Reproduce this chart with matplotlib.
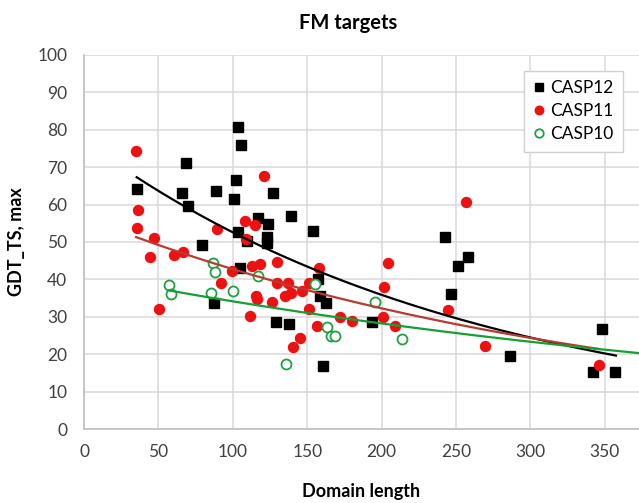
import matplotlib
matplotlib.use('Agg')
import matplotlib.pyplot as plt
import numpy as np

plt.rcParams['font.family'] = ['Lato', 'DejaVu Sans']

# CASP12
c12_x = [35.4, 103.7, 105.7, 68.8, 102.2, 66.1, 88.9, 69.7, 100.8, 126.8,
         117.1, 123.9, 103.7, 109.3, 122.8, 123.2, 79.5, 104.8, 87.6, 128.8,
         139.1, 154.1, 242.6, 251.6, 258.3, 246.6, 157.0, 158.6, 162.6, 138.0,
         193.3, 160.8, 347.9, 286.3, 341.8, 356.9]
c12_y = [64.1, 80.8, 75.9, 71.2, 66.5, 63.0, 63.6, 59.6, 61.6, 63.0,
         56.3, 54.8, 52.6, 50.3, 51.4, 49.6, 49.1, 43.0, 33.6, 28.7,
         57.0, 52.8, 51.4, 43.6, 45.9, 36.1, 40.0, 35.6, 33.6, 28.1,
         28.7, 16.8, 26.7, 19.6, 15.2, 15.2]

# CASP11
c11_x = [35.0, 36.5, 35.4, 47.0, 44.4, 60.7, 66.3, 89.6, 121.0, 108.0,
         115.1, 108.7, 129.5, 112.9, 118.5, 99.5, 129.5, 92.1, 50.6, 111.6,
         115.6, 116.0, 126.1, 137.3, 135.1, 139.1, 146.3, 151.4, 158.1, 151.4,
         156.4, 172.0, 179.9, 145.2, 140.7, 204.5, 201.6, 200.7, 209.0, 256.7,
         244.4, 269.5, 346.3]
c11_y = [74.4, 58.6, 53.7, 51.0, 45.9, 46.5, 47.4, 53.4, 67.6, 55.7,
         54.6, 50.7, 44.7, 43.6, 44.0, 42.3, 39.1, 39.1, 32.0, 30.2,
         35.6, 34.7, 34.0, 39.1, 35.6, 36.4, 37.0, 39.1, 43.0, 32.0,
         27.5, 30.0, 29.0, 24.3, 21.8, 44.3, 37.9, 30.0, 27.6, 60.8,
         31.8, 22.3, 17.1]

# CASP10
c10_x = [57.3, 58.2, 86.9, 87.8, 85.1, 99.9, 117.2, 155.2, 195.6, 163.5,
         166.0, 168.7, 213.5, 135.8]
c10_y = [38.5, 36.1, 44.3, 41.9, 36.3, 36.8, 40.9, 38.8, 33.9, 27.4,
         24.9, 24.9, 24.0, 17.4]

# exponential trend lines y = a*exp(b*x): (a, b, x_start, x_end)
trend12 = (77.05, -0.003824, 35.4, 357.5)
trend11 = (56.6, -0.002811, 35.0, 346.3)
trend10 = (41.28, -0.001903, 57.3, 373.0)

XMAX = 373


def trend_line(ax, params, color):
    a, b, x0, x1 = params
    xs = np.linspace(x0, x1, 200)
    ax.plot(xs, a * np.exp(b * xs), color=color, lw=1.6, zorder=5)


fig = plt.figure(figsize=(6.39, 5.03), dpi=100)
ax = fig.add_axes([0.1315, 0.147, 0.8685, 0.744])

ax.grid(True, color='#d9d9d9', linewidth=1.1, zorder=0)
ax.set_axisbelow(True)

ax.plot(c12_x, c12_y, 's', color='black', ms=7.4, mec='black', label='CASP12', zorder=3)
ax.plot(c11_x, c11_y, 'o', color='#ee1111', ms=7.2, mec='#ee1111', label='CASP11', zorder=3)
ax.plot(c10_x, c10_y, 'o', mfc='white', mec='#22a040', mew=1.3, ms=7.2,
        label='CASP10', zorder=4)

trend_line(ax, trend12, 'black')
trend_line(ax, trend11, '#b83a32')
trend_line(ax, trend10, '#14a035')

ax.set_xlim(0, XMAX)
ax.set_ylim(0, 100)
ax.set_xticks(np.arange(0, 351, 50))
ax.set_yticks(np.arange(0, 101, 10))
for s in ['top', 'right']:
    ax.spines[s].set_visible(False)
for s in ['left', 'bottom']:
    ax.spines[s].set_color('#bfbfbf')
    ax.spines[s].set_linewidth(1.2)
ax.tick_params(length=0, labelsize=12.5, colors='#404040', pad=12)
ax.tick_params(axis='x', pad=11)

fig.text(0.545, 0.954, 'FM targets', fontsize=14.5, fontweight='bold',
         ha='center', va='center')
ax.set_xlabel('Domain length', fontsize=13, fontweight='bold', labelpad=16)
ax.set_ylabel('GDT_TS, max', fontsize=13, fontweight='bold')
ax.yaxis.set_label_coords(-0.106, 0.5)

leg = ax.legend(loc='upper right', bbox_to_anchor=(0.971, 0.957), borderaxespad=0,
                fontsize=12.5, handlelength=0.6, handletextpad=0.35, borderpad=0.55,
                labelspacing=0.4, fancybox=False, framealpha=1,
                edgecolor='#d0d0d0', markerscale=0.85)
leg.get_frame().set_linewidth(1.0)

fig.savefig('out.png', dpi=100)
